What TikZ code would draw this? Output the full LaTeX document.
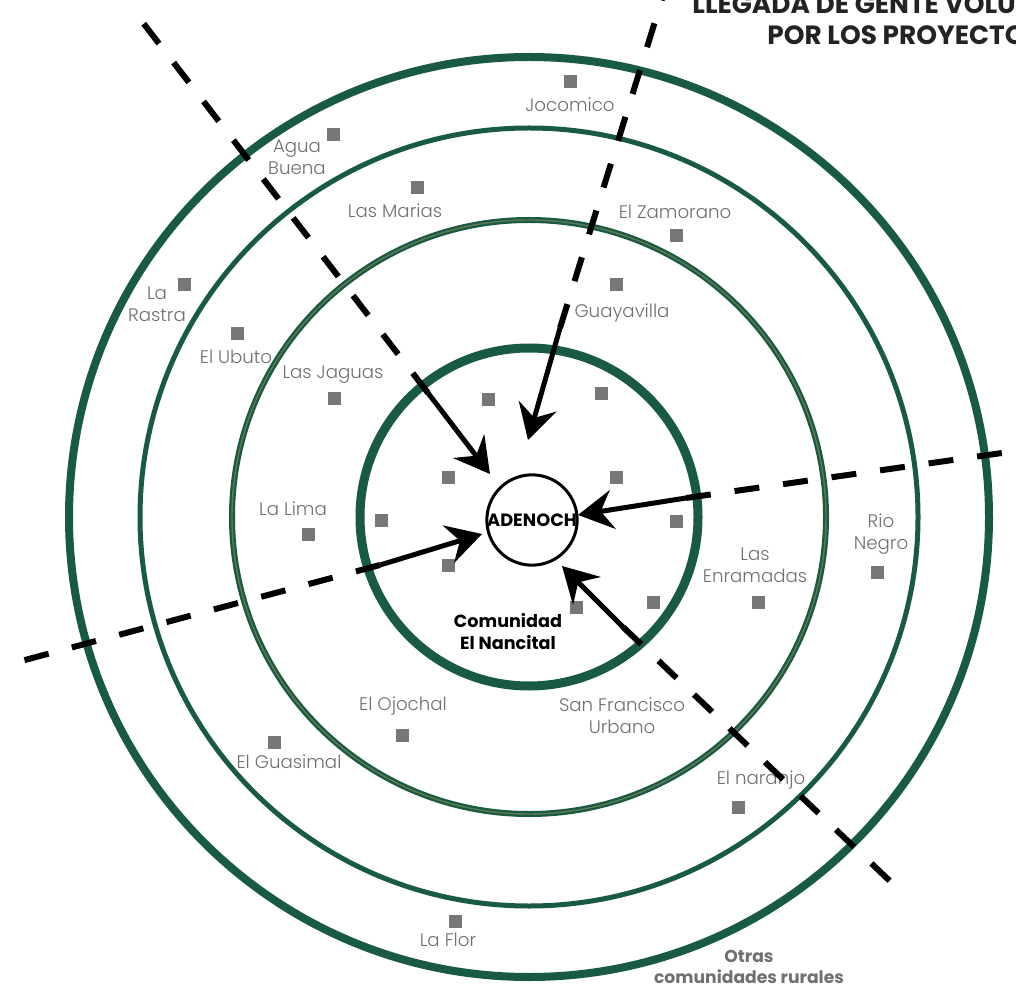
\documentclass[tikz,border=0pt]{standalone}
\usepackage{fontspec}
\setmainfont{Poppins}
\newfontfamily\lightfont{Poppins Light}
\usetikzlibrary{arrows.meta}
\definecolor{ringgreen}{RGB}{24,90,66}
\definecolor{ringolive}{RGB}{98,120,80}
\definecolor{labelgray}{RGB}{112,112,112}
\definecolor{markgray}{RGB}{119,119,119}
\definecolor{titlegray}{RGB}{35,35,35}
\begin{document}
\begin{tikzpicture}[x=0.5pt,y=-0.5pt,
  lbl/.style={text=labelgray, font=\lightfont\fontsize{9.1}{11}\selectfont, align=center, inner sep=0pt},
  blbl/.style={font=\bfseries\fontsize{8.8}{11}\selectfont, align=center, inner sep=0pt},
  sqmark/.style={rectangle, fill=markgray, draw=none, minimum size=6.5pt, inner sep=0pt},
  dashline/.style={line width=3pt, dash pattern=on 12.5pt off 12pt},
  arrowline/.style={line width=2.5pt, -{Stealth[length=17.5pt,width=19.5pt,inset=6pt]}},
  titletxt/.style={text=titlegray, font=\bfseries\fontsize{13.2}{15}\selectfont, inner sep=0pt, anchor=base west}
]
\useasboundingbox (0,0) rectangle (1016,988);
\clip (0,0) rectangle (1016,988);
\fill[white] (0,0) rectangle (1016,988);

\coordinate (C) at (529,517);
% rings
\draw[ringgreen, line width=4pt] (C) circle[radius=230pt];
\draw[ringgreen, line width=2.5pt] (C) circle[radius=194.5pt];
\draw[ringgreen, line width=3pt] (C) circle[radius=148.5pt];
\draw[ringolive, line width=0.7pt] (C) circle[radius=148.5pt];
\draw[ringgreen, line width=4.5pt] (C) circle[radius=84.5pt];

% squares
\node[sqmark] (q1) at (570,82) {};
\node[sqmark] (q2) at (333,135) {};
\node[sqmark] (q3) at (417,188) {};
\node[sqmark] (q4) at (676,236) {};
\node[sqmark] (q5) at (184,285) {};
\node[sqmark] (q6) at (616,285) {};
\node[sqmark] (q7) at (237,334) {};
\node[sqmark] (q8) at (334,399) {};
\node[sqmark] (q9) at (488,400) {};
\node[sqmark] (q10) at (601,394) {};
\node[sqmark] (q11) at (448,477) {};
\node[sqmark] (q12) at (616,477) {};
\node[sqmark] (q13) at (308,534) {};
\node[sqmark] (q14) at (381,520) {};
\node[sqmark] (q15) at (676,521) {};
\node[sqmark] (q16) at (448,565) {};
\node[sqmark] (q17) at (758,602) {};
\node[sqmark] (q18) at (877,572) {};
\node[sqmark] (q19) at (576,607) {};
\node[sqmark] (q20) at (653,602) {};
\node[sqmark] (q21) at (402,735) {};
\node[sqmark] (q22) at (274,742) {};
\node[sqmark] (q23) at (738,807) {};
\node[sqmark] (q24) at (455,921) {};

% labels
\node[lbl] (jocomico) at (570,105) {Jocomico};
\node[lbl] (agua) at (297,157.5) {Agua\\Buena};
\node[lbl] (marias) at (395,211) {Las Marias};
\node[lbl] (zamorano) at (675,212) {El Zamorano};
\node[lbl] (rastra) at (157,304.5) {La\\Rastra};
\node[lbl] (guayavilla) at (622,313) {Guayavilla};
\node[lbl] (ubuto) at (236,357) {El Ubuto};
\node[lbl] (jaguas) at (333,375) {Las Jaguas};
\node[lbl] (lima) at (293,509) {La Lima};
\node[lbl] (enramadas) at (755,565) {Las\\Enramadas};
\node[lbl] (rionegro) at (881,534) {Rio\\Negro};
\node[lbl] (ojochal) at (403,706) {El Ojochal};
\node[lbl] (sanfrancisco) at (622,715.5) {San Francisco\\Urbano};
\node[lbl] (guasimal) at (289,762) {El Guasimal};
\node[lbl] (naranjo) at (761,780) {El naranjo};
\node[lbl] (laflor) at (448,940) {La Flor};
\node[blbl] (nancital) at (508,632) {Comunidad\\El Nancital};
\node[blbl, text=labelgray, font=\bfseries\fontsize{8.6}{10.5}\selectfont] (otras) at (749,967) {Otras\\comunidades rurales};

% title
\node[titletxt] (title1) at (692,13.5) {LLEGADA DE GENTE VOLU};
\node[titletxt] (title2) at (767,45) {POR LOS PROYECTO};

% centre node
\node[circle, draw=black, line width=1.5pt, minimum size=44pt, inner sep=0pt, fill=white,
      font=\bfseries\fontsize{8.9}{10}\selectfont] (adenoch) at (532,520) {ADENOCH};

% connector coordinates
\coordinate (endA) at (137,15);
\coordinate (startA) at (428,393);
\coordinate (tipA) at (490,474);
\coordinate (endB) at (666,-14);
\coordinate (startB) at (560,328);
\coordinate (tipB) at (528,440);
\coordinate (endC) at (1030,449);
\coordinate (startC) at (686,498);
\coordinate (tipC) at (578,515);
\coordinate (endD) at (10,664);
\coordinate (startD) at (380,565);
\coordinate (tipD) at (482,534);
\coordinate (endE) at (893,884);
\coordinate (startE) at (623,627);
\coordinate (tipE) at (562,566);

\draw[dashline] (startA) -- (endA);
\draw[dashline] (startB) -- (endB);
\draw[dashline] (startC) -- (endC);
\draw[dashline] (startD) -- (endD);
\draw[dashline] (startE) -- (endE);

\draw[arrowline] (startA) -- (tipA);
\draw[arrowline] (startB) -- (tipB);
\draw[arrowline] (startC) -- (tipC);
\draw[arrowline] (startD) -- (tipD);
\draw[arrowline] (startE) -- (tipE);
\end{tikzpicture}
\end{document}
